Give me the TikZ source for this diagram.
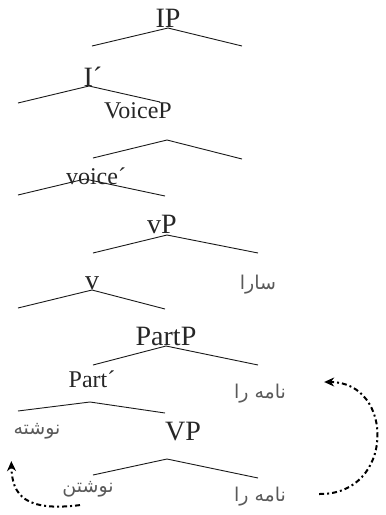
\documentclass[tikz,border=0pt]{standalone}
\usepackage{fontspec}
\setmainfont{Liberation Serif}
\newfontfamily\farsi[Script=Arabic]{DejaVu Sans}
\TeXXeTstate=1
\usetikzlibrary{arrows.meta}

\tikzset{
    cat/.style={inner sep=0pt, text=black!85, font=\fontsize{28}{28}\selectfont},
    subcat/.style={cat, font=\fontsize{24}{24}\selectfont},
    word/.style={inner sep=0pt, text=black!65, font=\farsi\fontsize{19}{19}\selectfont},
    branch/.style={line width=0.9pt, black!90},
    movement/.style={-{Stealth[length=10pt,width=9pt]}, line width=2pt, dash pattern=on 5pt off 3pt on 2pt off 3pt}
}

\begin{document}
\begin{tikzpicture}[x=1pt, y=-1pt]
    \useasboundingbox (0,0) rectangle (386,515);

    \node[cat, anchor=south] (IP) at (168,28) {IP};
    \coordinate (ip-l) at (92,46);
    \coordinate (ip-r) at (242,46);
    \draw[branch] (ip-l) -- (IP.south) -- (ip-r);

    \node[cat, anchor=south] (Ibar) at (93,87) {I´};
    \coordinate (ibar-top) at (89,86);
    \coordinate (ibar-l) at (18,103);
    \coordinate (ibar-r) at (160,102);
    \draw[branch] (ibar-l) -- (ibar-top) -- (ibar-r);

    \node[subcat] (VoiceP) at (138,111) {VoiceP};
    \coordinate (voicep-top) at (167,140);
    \coordinate (voicep-l) at (93,158);
    \coordinate (voicep-r) at (242,159);
    \draw[branch] (voicep-l) -- (voicep-top) -- (voicep-r);

    \coordinate (voicebar-top) at (85,179);
    \coordinate (voicebar-l) at (18,195);
    \coordinate (voicebar-r) at (165,196);
    \draw[branch] (voicebar-l) -- (voicebar-top) -- (voicebar-r);
    \node[subcat, anchor=base] (voicebar) at (96,184) {voice´};

    \node[cat, anchor=south] (vP) at (162,234) {vP};
    \coordinate (vp-top) at (167,235);
    \coordinate (vp-l) at (93,253);
    \coordinate (vp-r) at (258,253);
    \draw[branch] (vp-l) -- (vp-top) -- (vp-r);

    \node[cat, anchor=south] (v) at (92,290) {v};
    \coordinate (v-l) at (18,308);
    \coordinate (v-r) at (165,309);
    \draw[branch] (v-l) -- (v.south) -- (v-r);
    \node[word] (sara) at (258,285) {\beginR سارا\endR};

    \node[cat, anchor=south] (PartP) at (166,346) {PartP};
    \coordinate (partp-l) at (93,365);
    \coordinate (partp-r) at (258,365);
    \draw[branch] (partp-l) -- (PartP.south) -- (partp-r);

    \node[subcat, anchor=south] (Partbar) at (92,388) {Part´};
    \coordinate (partbar-top) at (90,402);
    \coordinate (partbar-l) at (18,411);
    \coordinate (partbar-r) at (165,413);
    \draw[branch] (partbar-l) -- (partbar-top) -- (partbar-r);
    \node[word] (name-up) at (260,394) {\beginR نامه را\endR};

    \node[word] (neveshte) at (37,431) {\beginR نوشته\endR};
    \node[cat] (VP) at (183,432) {VP};
    \coordinate (vpl-top) at (167,459);
    \coordinate (vpl-l) at (93,475);
    \coordinate (vpl-r) at (258,478);
    \draw[branch] (vpl-l) -- (vpl-top) -- (vpl-r);
    \node[word] (neveshtan) at (88,489) {\beginR نوشتن\endR};
    \node[word] (name-low) at (260,497) {\beginR نامه را\endR};

    \draw[movement] ([xshift=33pt,yshift=3pt]name-low.east) .. controls (395,495) and (395,382) .. ([xshift=38pt,yshift=12pt]name-up.east);
    \draw[movement] ([xshift=-8pt,yshift=-8pt]neveshtan.south) .. controls (25,512) and (12,495) .. ([xshift=-2pt,yshift=-22pt]neveshte.south west);
\end{tikzpicture}
\end{document}
